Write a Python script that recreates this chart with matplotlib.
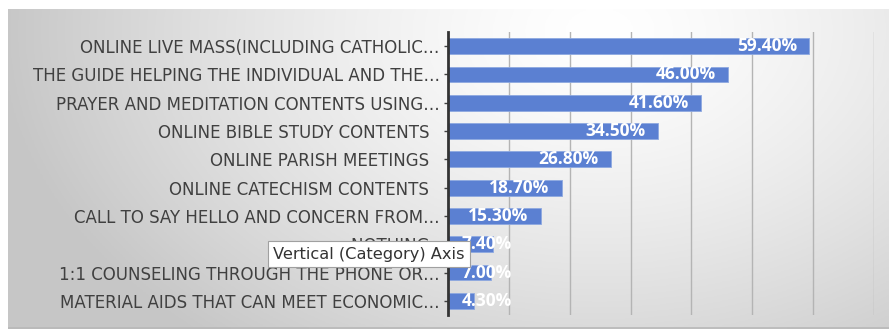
import numpy as np
import matplotlib
matplotlib.use("Agg")
import matplotlib.pyplot as plt

# datos del grafico (de arriba hacia abajo)
categorias = [
    "ONLINE LIVE MASS(INCLUDING CATHOLIC\u2026",
    "THE GUIDE HELPING THE INDIVIDUAL AND THE\u2026",
    "PRAYER AND MEDITATION CONTENTS USING\u2026",
    "ONLINE BIBLE STUDY CONTENTS  ",
    "ONLINE PARISH MEETINGS  ",
    "ONLINE CATECHISM CONTENTS  ",
    "CALL TO SAY HELLO AND CONCERN FROM\u2026",
    "NOTHING  ",
    "1:1 COUNSELING THROUGH THE PHONE OR\u2026",
    "MATERIAL AIDS THAT CAN MEET ECONOMIC\u2026",
]
valores = [59.4, 46.0, 41.6, 34.5, 26.8, 18.7, 15.3, 7.4, 7.0, 4.3]
etiquetas = ["59.40%", "46.00%", "41.60%", "34.50%", "26.80%",
             "18.70%", "15.30%", "7.40%", "7.00%", "4.30%"]
xticks = [10, 20, 30, 40, 50, 60, 70]

W, H = 889, 329
fig = plt.figure(figsize=(W / 100, H / 100), dpi=100)
fig.patch.set_facecolor("white")

# fondo con degradado radial
bg = fig.add_axes([8 / W, 0, 1 - 8 / W, (H - 9) / H])
gx, gy = np.meshgrid(np.linspace(8, W, 300), np.linspace(9, H, 120))
d = np.sqrt(((gx - 600) / 560) ** 2 + ((gy - 30) / 380) ** 2)
g = np.clip(1.0 - 0.2 * d ** 1.4, 0.78, 1.0)
bg.imshow(np.dstack([g, g, g]), aspect="auto", extent=[0, 1, 1, 0])
bg.set_xlim(0, 1)
bg.set_ylim(1, 0)
bg.axis("off")
bg.plot([0, 1], [0.003, 0.003], color="#b8b8b8", lw=1.2, transform=bg.transAxes)

ax = fig.add_axes([448 / W, 1 - 315 / H, (874 - 448) / W, (315 - 32) / H])
ax.patch.set_alpha(0)
y = np.arange(len(valores))
ax.barh(y, valores, height=0.56, color="#5b80d2", edgecolor="#8ea9e0",
        linewidth=0.6, zorder=3)
ax.set_xlim(0, 70)
ax.set_ylim(len(valores) - 0.5, -0.5)
ax.set_xticks(xticks)
ax.set_xticklabels([])
ax.tick_params(axis="x", length=0)
ax.grid(axis="x", color="#b4b4b4", lw=1.0, zorder=0)
ax.set_yticks(y)
ax.set_yticklabels(categorias, fontsize=12, color="#404040", family="DejaVu Sans")
ax.tick_params(axis="y", length=3, width=1, color="#404040", pad=3)
for s in ["top", "right", "bottom"]:
    ax.spines[s].set_visible(False)
ax.spines["left"].set_color("#333333")
ax.spines["left"].set_linewidth(2)
ax.spines["left"].set_zorder(4)

for yi, v, t in zip(y, valores, etiquetas):
    if v < 10:
        ax.annotate(t, (0, yi), xytext=(10, 0), textcoords="offset points",
                    ha="left", va="center", color="white", fontsize=12.5,
                    fontweight="bold", family="Open Sans", zorder=5)
    else:
        ax.annotate(t, (v, yi), xytext=(-9, 0), textcoords="offset points",
                    ha="right", va="center", color="white", fontsize=12.5,
                    fontweight="bold", family="Open Sans", zorder=5)

# tooltip del eje
fig.text(273 / W, 1 - 254 / H, "Vertical (Category) Axis", fontsize=11.7,
         color="#333333", family="DejaVu Sans", va="center", ha="left", zorder=10,
         bbox=dict(boxstyle="square,pad=0.33", facecolor="white",
                   edgecolor="#a0a0a0", linewidth=0.8))

fig.savefig("out.png", dpi=100)
